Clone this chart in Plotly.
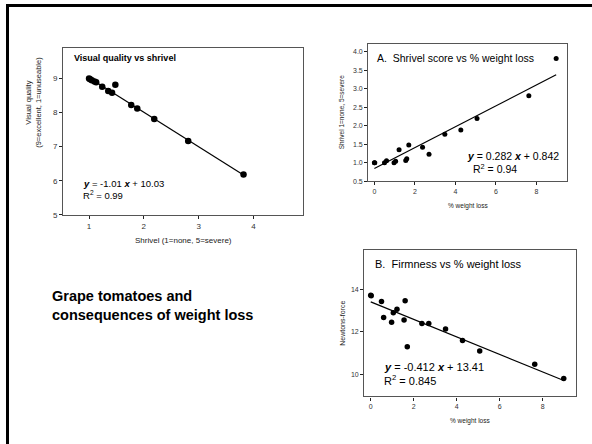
import plotly.graph_objects as go

# ---------------- data ----------------
# Visual quality vs shrivel (left panel)
vq_shrivel = [1.0, 1.02, 1.05, 1.1, 1.13, 1.24, 1.35, 1.42, 1.48, 1.77, 1.88, 2.19, 2.81, 3.82]
vq_quality = [9.0, 8.98, 8.95, 8.91, 8.89, 8.76, 8.63, 8.58, 8.82, 8.22, 8.12, 7.81, 7.17, 6.18]
vq_slope, vq_intercept, vq_r2 = -1.01, 10.03, 0.99

# Weight loss series (panels A and B)
weight_loss = [0.0, 0.02, 0.5, 0.6, 0.97, 1.05, 1.22, 1.55, 1.6, 1.7, 2.38, 2.7, 3.48, 4.27, 5.07, 7.63, 8.98]
shrivel = [1.0, 1.0, 1.0, 1.05, 1.0, 1.04, 1.35, 1.06, 1.11, 1.48, 1.42, 1.23, 1.77, 1.88, 2.19, 2.81, 3.81]
firmness = [13.72, 13.7, 13.43, 12.68, 12.45, 12.9, 13.07, 12.56, 13.46, 11.3, 12.39, 12.39, 12.14, 11.6, 11.1, 10.48, 9.81]
a_slope, a_intercept, a_r2 = 0.282, 0.842, 0.94
b_slope, b_intercept, b_r2 = -0.412, 13.41, 0.845

vq_xticks = [1, 2, 3, 4]
vq_yticks = [5, 6, 7, 8, 9]
a_xticks = [0, 2, 4, 6, 8]
a_yticks = [0.5, 1.0, 1.5, 2.0, 2.5, 3.0, 3.5, 4.0]
b_xticks = [0, 2, 4, 6, 8]
b_yticks = [10, 12, 14]

# ---------------- layout helpers ----------------
W, H = 592, 444
FONT = "Liberation Sans, Arial, sans-serif"


def px(x):
    return x / W


def py(y):
    return 1 - y / H


def line_pts(xs, m, b):
    x0, x1 = min(xs), max(xs)
    return [x0, x1], [m * x0 + b, m * x1 + b]


fig = go.Figure()

# Left panel
fig.add_trace(go.Scatter(x=vq_shrivel, y=vq_quality, mode="markers",
                         marker=dict(color="black", size=6.5), xaxis="x", yaxis="y", showlegend=False))
lx, ly = line_pts(vq_shrivel, vq_slope, vq_intercept)
fig.add_trace(go.Scatter(x=lx, y=ly, mode="lines", line=dict(color="black", width=1.2),
                         xaxis="x", yaxis="y", showlegend=False))

# Panel A
fig.add_trace(go.Scatter(x=weight_loss, y=shrivel, mode="markers",
                         marker=dict(color="black", size=5), xaxis="x2", yaxis="y2", showlegend=False))
lx, ly = line_pts(weight_loss, a_slope, a_intercept)
fig.add_trace(go.Scatter(x=lx, y=ly, mode="lines", line=dict(color="black", width=1.2),
                         xaxis="x2", yaxis="y2", showlegend=False))

# Panel B
fig.add_trace(go.Scatter(x=weight_loss, y=firmness, mode="markers",
                         marker=dict(color="black", size=5.5), xaxis="x3", yaxis="y3", showlegend=False))
lx, ly = line_pts(weight_loss, b_slope, b_intercept)
fig.add_trace(go.Scatter(x=lx, y=ly, mode="lines", line=dict(color="black", width=1.2),
                         xaxis="x3", yaxis="y3", showlegend=False))

axis_common = dict(showline=True, mirror=True, linecolor="#555", linewidth=1.3,
                   ticks="outside", ticklen=3, tickwidth=1, tickcolor="#222",
                   showgrid=False, zeroline=False,
                   tickfont=dict(family=FONT, size=8, color="#333"))
small_font = dict(family=FONT, size=7, color="#333")

fig.update_layout(
    width=W, height=H,
    margin=dict(l=0, r=0, t=0, b=0),
    paper_bgcolor="white", plot_bgcolor="white",
    font=dict(family=FONT, color="black"),
    xaxis=dict(domain=[px(63.3), px(302.7)], range=[0.53, 4.9], tickvals=vq_xticks,
               anchor="y", **axis_common),
    yaxis=dict(domain=[py(217.3), py(48.7)], range=[5, 9.89], tickvals=vq_yticks,
               anchor="x", **axis_common),
    xaxis2=dict(domain=[px(368.3), px(566.7)], range=[-0.3, 9.5], tickvals=a_xticks,
                anchor="y2", **{**axis_common, "tickfont": small_font}),
    yaxis2=dict(domain=[py(183.3), py(45)], range=[0.5, 4.19], tickvals=a_yticks,
                tickformat=".1f", anchor="x2", **{**axis_common, "tickfont": small_font}),
    xaxis3=dict(domain=[px(364.3), px(576)], range=[-0.3, 9.55], tickvals=b_xticks,
                anchor="y3", **{**axis_common, "tickfont": small_font}),
    yaxis3=dict(domain=[py(401), py(252.7)], range=[8.96, 15.86], tickvals=b_yticks,
                anchor="x3", **{**axis_common, "tickfont": small_font}),
)

ann = []


def A(x, y, text, size, xanchor="left", bold=False, angle=0, color="black"):
    t = f"<b>{text}</b>" if bold else text
    ann.append(dict(x=px(x), y=py(y), xref="paper", yref="paper", text=t, showarrow=False,
                    xanchor=xanchor, yanchor="middle", textangle=angle,
                    font=dict(family=FONT, size=size, color=color)))


BI = '<span style="font-weight:bold;font-style:italic">{}</span>'


def eq(m, b):
    sign = "+" if b >= 0 else "-"
    return f"{BI.format('y')} = {m:g} {BI.format('x')} {sign} {abs(b):g}"


# Left panel texts
A(71.5, 59, "Visual quality vs shrivel", 9, bold=True)
A(81, 185.5, eq(vq_slope, vq_intercept), 9.5)
A(81, 197, f"R<sup>2</sup> = {vq_r2:g}", 9.5)
A(183, 243, "Shrivel (1=none, 5=severe)", 8, xanchor="center", color="#222")
A(34, 104, "Visual quality<br>(9=excellent, 1=unuseable)", 7.5, xanchor="center", angle=-90, color="#222")

# Panel A texts
A(375, 59, "A.  Shrivel score vs % weight loss", 10.5)
A(560.5, 158, eq(a_slope, a_intercept), 10.5, xanchor="right")
A(471, 170.5, f"R<sup>2</sup> = {a_r2:g}", 10.5)
A(467.5, 208, "% weight loss", 6.5, xanchor="center", color="#222")
A(341.5, 114, "Shrivel 1=none, 5=severe", 6.5, xanchor="center", angle=-90, color="#222")

# Panel B texts
A(372.5, 267.5, "B.  Firmness vs % weight loss", 11)
A(381.5, 371.5, eq(b_slope, b_intercept), 11)
A(381.5, 384, f"R<sup>2</sup> = {b_r2:g}", 11)
A(469.5, 426, "% weight loss", 6.5, xanchor="center", color="#222")
A(342.5, 327, "Newtons-force", 7, xanchor="center", angle=-90, color="#222")

# Title block
ann.append(dict(x=px(50), y=py(309), xref="paper", yref="paper",
                text="<b>Grape tomatoes and<br>consequences of weight loss</b>",
                showarrow=False, xanchor="left", yanchor="middle", align="left",
                font=dict(family=FONT, size=14.5, color="black")))

fig.update_layout(annotations=ann)

# Outer slide frame
fig.add_shape(type="rect", xref="paper", yref="paper",
              x0=px(7.5), y0=py(5.5), x1=1.1, y1=-0.1,
              line=dict(color="black", width=3), fillcolor="rgba(0,0,0,0)", layer="above")

fig.write_html("out.html", config={"displayModeBar": False},
               post_script="document.body.style.margin='0';document.body.style.overflow='hidden';")
